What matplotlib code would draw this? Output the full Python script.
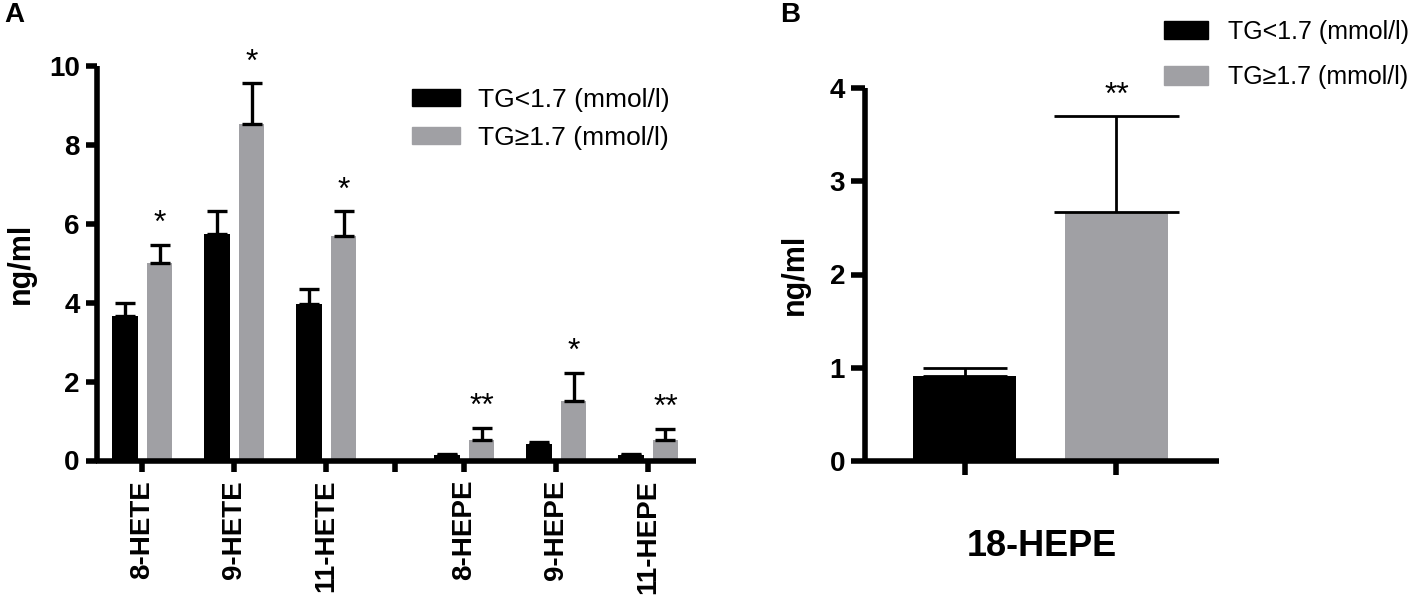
import numpy as np
import matplotlib
matplotlib.use("Agg")
import matplotlib.pyplot as plt
from matplotlib.patches import Patch

plt.rcParams['font.family'] = ['Liberation Sans', 'DejaVu Sans']

# panel A data
names_a = ['8-HETE', '9-HETE', '11-HETE', '8-HEPE', '9-HEPE', '11-HEPE']
low_mean = [3.68, 5.76, 3.97, 0.14, 0.41, 0.14]
low_sem = [0.31, 0.57, 0.38, 0.03, 0.06, 0.03]
high_mean = [5.01, 8.53, 5.71, 0.53, 1.51, 0.52]
high_sem = [0.47, 1.05, 0.62, 0.30, 0.72, 0.29]
stars_a = ['*', '*', '*', '**', '*', '**']

# panel B data
name_b = '18-HEPE'
b_mean = [0.91, 2.67]
b_sem = [0.09, 1.03]
stars_b = ['', '**']

groups = ['TG<1.7 (mmol/l)', 'TG\u22651.7 (mmol/l)']
grey = '#a0a0a4'

W, H = 1417, 608
fig = plt.figure(figsize=(W / 100, H / 100), dpi=100)


def style_axes(ax, ticklen):
    for s in ['top', 'right']:
        ax.spines[s].set_visible(False)
    for s in ['left', 'bottom']:
        ax.spines[s].set_linewidth(4)
        ax.spines[s].set_capstyle('butt')
    ax.tick_params(width=4, length=ticklen, direction='out')
    ax.tick_params(axis='y', labelsize=20, pad=4)
    for lab in ax.get_yticklabels():
        lab.set_fontweight('bold')


# ---------- panel A ----------
axA = fig.add_axes([96.5 / W, 1 - 460.5 / H, (696 - 96.5) / W, (460.5 - 66.5) / H])
pos = np.array([0, 1, 2, 3.5, 4.5, 5.5])
off = 0.188
bw = 0.277
axA.bar(pos - off, low_mean, bw, color='black', zorder=2)
axA.bar(pos + off, high_mean, bw, color=grey, zorder=2)
axA.errorbar(pos - off, low_mean, yerr=[np.zeros(6), low_sem], fmt='none',
             ecolor='black', elinewidth=2.4, capsize=7, capthick=2.4, zorder=3)
axA.errorbar(pos + off, high_mean, yerr=[np.zeros(6), high_sem], fmt='none',
             ecolor='black', elinewidth=2.4, capsize=7, capthick=2.4, zorder=3)
for x, m, e, s in zip(pos + off, high_mean, high_sem, stars_a):
    axA.annotate(s, (x, m + e), xytext=(0, 9), textcoords='offset points',
                 ha='center', va='baseline', fontsize=23)
axA.set_xlim(-0.5, 6.02)
axA.set_ylim(0, 10)
axA.set_yticks([0, 2, 4, 6, 8, 10])
axA.set_xticks(list(pos[:3]) + [2.75] + list(pos[3:]))
axA.set_xticklabels(names_a[:3] + [''] + names_a[3:], rotation=90,
                    fontsize=20, fontweight='bold')
style_axes(axA, 8)
axA.tick_params(axis='x', pad=6)
axA.set_ylabel('ng/ml', fontsize=22, fontweight='bold')
axA.yaxis.set_label_coords(-0.101, 0.5)
axA.legend([Patch(color='black'), Patch(color=grey)], groups, loc='upper left',
           bbox_to_anchor=(412 / W, 1 - 87.5 / H), bbox_transform=fig.transFigure,
           frameon=False, fontsize=19, borderpad=0, borderaxespad=0,
           handlelength=1.8, handleheight=0.6, handletextpad=0.7, labelspacing=0.55)

# ---------- panel B ----------
axB = fig.add_axes([864.5 / W, 1 - 461 / H, (1219 - 864.5) / W, (461 - 88) / H])
xb = np.array([0, 1])
axB.bar(xb, b_mean, 0.68, color=['black', grey], zorder=2)
axB.errorbar(xb[0], b_mean[0], yerr=[[0], [b_sem[0]]], fmt='none', ecolor='black',
             elinewidth=2, capsize=30, capthick=2, zorder=3)
axB.errorbar(xb[1], b_mean[1], yerr=[[0], [b_sem[1]]], fmt='none', ecolor='black',
             elinewidth=2, capsize=45, capthick=2, zorder=3)
for x, m, e, s in zip(xb, b_mean, b_sem, stars_b):
    if s:
        axB.annotate(s, (x, m + e), xytext=(0, 9), textcoords='offset points',
                     ha='center', va='baseline', fontsize=23)
axB.set_xlim(-0.663, 1.677)
axB.set_ylim(0, 4)
axB.set_yticks([0, 1, 2, 3, 4])
axB.set_xticks(xb)
axB.set_xticklabels(['', ''])
style_axes(axB, 10)
axB.set_ylabel('ng/ml', fontsize=22, fontweight='bold')
axB.yaxis.set_label_coords(-0.155, 0.5)
axB.set_xlabel(name_b, fontsize=26, fontweight='bold')
axB.xaxis.set_label_coords(0.5, -0.182)
axB.legend([Patch(color='black'), Patch(color=grey)], groups, loc='upper left',
           bbox_to_anchor=(1164 / W, 1 - 20 / H), bbox_transform=fig.transFigure,
           frameon=False, fontsize=18, borderpad=0, borderaxespad=0,
           handlelength=1.75, handleheight=0.75, handletextpad=0.8, labelspacing=0.85)

fig.text(4 / W, 1 - 2 / H, 'A', fontsize=20, fontweight='bold', va='top')
fig.text(780 / W, 1 - 2 / H, 'B', fontsize=20, fontweight='bold', va='top')

fig.savefig('out.png', dpi=100)
